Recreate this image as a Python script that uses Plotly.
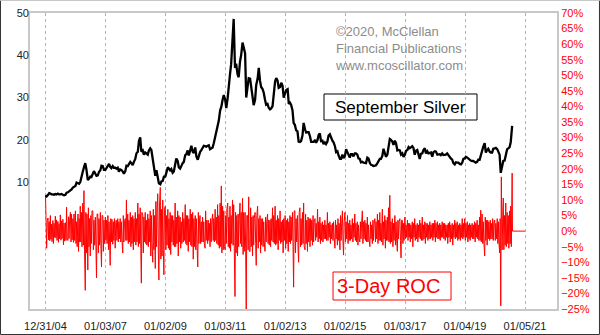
import pandas as pd
import plotly.graph_objects as go

# ---------------- data ----------------
# September silver, $/oz, twice a month (1st and 15th), Jan 2005 - Aug 2020
silver_2005 = [6.8, 6.6, 7.0, 7.4, 7.3, 7.1, 7.1, 7.0, 7.2, 7.1, 7.3, 7.1, 7.1, 7.2, 7.0, 6.9, 7.0, 7.5, 7.6, 7.8, 8.0, 8.3, 8.7, 8.9]
silver_2006 = [9.1, 9.9, 9.8, 9.6, 10.0, 11.5, 12.5, 13.5, 14.5, 13.0, 10.5, 10.8, 11.3, 11.2, 12.0, 12.6, 12.0, 11.5, 11.6, 12.4, 12.8, 13.9, 13.8, 12.9]
silver_2007 = [12.9, 13.4, 13.8, 14.3, 13.6, 13.3, 13.8, 13.4, 13.4, 13.2, 13.4, 12.5, 13.0, 12.9, 12.5, 12.0, 12.6, 13.9, 13.8, 14.4, 14.8, 14.5, 14.0, 14.8]
silver_2008 = [15.5, 16.8, 17.2, 19.8, 20.6, 17.2, 17.5, 16.5, 17.0, 16.8, 16.5, 17.5, 18.0, 17.6, 15.0, 13.6, 11.5, 12.8, 10.5, 9.7, 9.5, 10.2, 10.3, 11.3]
silver_2009 = [11.3, 12.5, 13.5, 13.2, 12.8, 13.1, 12.2, 12.5, 14.0, 15.6, 15.0, 13.5, 13.2, 13.9, 14.5, 14.8, 16.4, 16.6, 17.5, 16.3, 17.5, 18.6, 17.2, 16.9]
silver_2010 = [18.2, 16.1, 15.3, 16.3, 17.1, 17.5, 18.0, 18.6, 18.5, 18.4, 18.6, 18.7, 17.8, 17.9, 18.2, 19.2, 20.5, 21.8, 23.5, 24.5, 27.0, 27.8, 29.5, 30.6]
silver_2011 = [29.5, 27.5, 30.0, 33.5, 35.5, 37.9, 42.5, 48.6, 37.0, 38.0, 35.5, 34.8, 38.5, 40.0, 43.0, 41.5, 40.5, 30.0, 32.0, 34.6, 34.5, 32.6, 31.0, 28.2]
silver_2012 = [29.5, 33.0, 34.5, 37.0, 34.0, 32.5, 32.0, 31.2, 29.5, 28.3, 28.5, 27.6, 27.2, 27.4, 28.0, 31.0, 33.8, 34.6, 34.0, 32.3, 32.5, 33.5, 32.8, 30.0]
silver_2013 = [31.0, 31.8, 32.0, 28.5, 28.8, 28.3, 27.0, 24.0, 23.5, 22.3, 22.0, 19.6, 19.5, 19.7, 21.0, 24.0, 22.5, 21.7, 21.8, 21.8, 20.8, 19.5, 19.5, 19.5]
silver_2014 = [20.0, 19.3, 20.0, 21.2, 21.5, 19.7, 19.8, 19.0, 19.4, 19.0, 19.6, 21.0, 21.3, 20.4, 19.8, 19.4, 18.5, 17.1, 17.3, 16.3, 15.5, 15.5, 16.5, 15.7]
silver_2015 = [16.2, 17.8, 17.0, 16.6, 15.8, 16.6, 16.6, 16.1, 16.8, 16.8, 16.5, 15.6, 15.5, 14.7, 14.8, 14.6, 14.5, 14.5, 15.8, 15.6, 14.5, 14.1, 14.0, 13.8]
silver_2016 = [13.9, 14.0, 14.5, 15.0, 15.5, 15.5, 16.2, 17.9, 17.0, 16.0, 16.5, 18.6, 20.2, 20.0, 19.6, 18.8, 19.8, 19.2, 17.5, 17.6, 17.5, 16.5, 16.8, 16.0]
silver_2017 = [16.5, 17.4, 17.6, 18.3, 18.0, 18.2, 18.5, 18.1, 16.5, 17.4, 17.6, 16.6, 15.5, 16.7, 16.8, 17.6, 18.0, 16.8, 17.3, 16.8, 17.0, 17.0, 16.0, 17.1]
silver_2018 = [17.3, 17.2, 16.5, 16.5, 16.6, 16.4, 16.8, 16.4, 16.4, 16.5, 16.8, 16.3, 15.9, 15.6, 15.3, 14.5, 14.2, 14.7, 14.6, 14.6, 14.3, 14.2, 14.6, 15.5]
silver_2019 = [15.6, 16.0, 15.8, 15.6, 15.2, 15.1, 15.0, 15.0, 14.8, 14.6, 14.8, 15.3, 15.3, 16.4, 17.0, 18.4, 19.2, 17.0, 17.6, 17.9, 17.2, 17.0, 17.0, 17.9]
silver_2020 = [18.0, 18.1, 17.8, 16.9, 16.5, 12.2, 14.2, 15.0, 15.1, 16.5, 17.8, 18.0, 18.3, 19.5, 23.3]

# 3-day rate of change, %, four readings a month (days 1, 8, 15, 22), Jan 2005 - Aug 2020
roc_2005 = [11.6, -3.0, -5.5, 3.5, 4.2, -2.8, 3.0, -3.1, 5.0, -2.6, 2.2, -3.4, 3.4, -4.0, 2.5, -2.0, 4.8, -2.2, 3.6, -3.0, 3.1, -3.6, 2.4, -2.5, 5.2, -2.9, 3.3, -2.4, 3.8, -4.4, 2.6, -3.2, 2.7, -3.0, 7.7, -2.5, -3.0, 4.6, -2.4, 3.5, 6.0, -3.5, 5.4, -2.8, 4.0, -3.6, 5.5, -3.0]
roc_2006 = [6.5, -4.0, 3.0, -5.0, 5.5, -6.5, 4.0, -3.5, 8.0, -3.5, 6.0, -5.0, 9.0, -4.5, 13.0, -6.0, -19.0, 6.0, -7.0, 5.5, -12.5, 7.5, -5.0, 4.0, -8.0, 5.0, -4.0, 6.5, 6.5, -6.0, 3.5, -4.5, 4.5, -5.0, -15.0, 5.5, 5.5, -7.0, 4.0, -4.5, 6.0, -5.5, -11.5, 5.0, 5.0, -6.5, 3.5, -4.0]
roc_2007 = [4.5, -3.0, 3.5, -4.0, 5.0, -6.0, 3.0, -3.5, -11.0, 4.0, -3.5, 3.8, -4.2, 3.0, -3.0, 4.0, -5.5, 2.8, 3.5, -3.0, 4.0, -3.5, 3.0, -2.5, 4.0, -3.5, 3.0, -2.5, -7.0, 5.0, -3.5, 3.0, 4.0, -3.0, 10.0, -3.0, 5.5, -4.0, 3.5, -3.5, 6.0, -5.0, 4.5, -4.0, 5.0, -6.0, 4.0, -3.5]
roc_2008 = [6.0, -4.5, 4.0, -3.5, 9.0, -5.0, 5.5, -4.0, 7.5, -5.5, -16.7, 6.0, 5.0, -7.0, 4.5, -3.5, 6.0, -4.0, 3.5, -4.5, 5.5, -5.0, 4.0, -3.5, 6.5, -8.0, 5.0, -4.0, -10.0, 7.0, -6.0, 5.0, -12.0, 9.5, -5.0, 6.0, 12.0, -7.0, -15.7, 8.0, 14.0, -9.0, 7.0, -8.0, 10.0, -6.0, -14.0, 7.0]
roc_2009 = [8.0, -6.0, 5.0, -4.5, 7.0, -5.5, 4.0, -6.0, 6.0, -7.5, 5.0, -3.5, 5.0, -4.5, 3.5, -5.0, 9.0, -5.0, 4.5, -4.0, 6.5, -8.0, 5.0, -3.5, 4.5, -5.5, 3.0, -4.0, 6.0, -3.5, 4.0, -3.0, 8.5, -4.0, 5.0, -4.5, 5.0, -6.5, 4.0, -3.5, 7.0, -4.5, 5.5, -5.0, 6.0, -9.0, 4.0, -5.0]
roc_2010 = [5.0, -6.0, 4.0, -3.5, -11.5, 6.0, -4.0, 3.5, 5.0, -4.0, 3.0, -3.5, 4.5, -3.5, 3.0, -4.0, -5.5, 6.5, -3.0, 3.5, -4.0, 3.5, -3.0, 2.5, -5.0, 4.0, -3.5, 3.0, 5.5, -3.0, 4.0, -3.5, 7.0, -3.0, 4.5, -4.0, 8.5, -4.5, 5.0, -5.5, 9.0, -5.0, 14.5, -7.0, 8.0, -6.0, 6.5, -5.0]
roc_2011 = [-6.0, 5.0, -4.0, 7.0, 9.0, -5.0, 4.5, -5.5, 8.0, -6.5, 5.0, -4.0, 10.0, -4.5, 8.5, -5.0, -21.0, 6.0, -7.0, 5.0, -8.0, 5.5, -5.0, 4.0, 9.0, -4.0, 6.0, -5.0, 10.5, -7.5, 6.0, -6.5, 6.0, -5.5, -25.0, 5.0, 5.0, -6.0, 11.0, -6.5, -6.5, 7.5, -5.0, 4.5, -8.0, 5.0, -4.5, 4.0]
roc_2012 = [6.0, -4.0, -11.0, 5.0, 8.0, -5.5, 4.0, -3.5, 5.0, -7.0, 4.0, -4.5, 4.0, -5.0, 3.0, -3.5, -6.5, 4.5, -3.5, 3.0, 5.5, -4.0, 3.5, -4.5, 3.5, -5.0, 4.0, -3.0, 7.5, -3.5, 5.0, -4.0, 8.0, -4.5, 3.5, -4.0, 5.0, -6.0, 4.0, -3.0, 6.5, -4.0, 3.0, -3.5, 3.5, -7.0, 4.0, -3.0]
roc_2013 = [5.0, -5.5, 3.5, -4.0, 4.0, -6.5, 3.0, -3.5, 5.0, -4.0, 4.5, -3.0, 6.0, -5.0, -18.0, 6.5, 6.5, -7.0, 4.0, -3.5, 5.0, -5.5, -10.0, 6.0, 7.5, -5.0, 4.0, -4.5, 6.0, -4.0, 9.0, -5.0, -6.0, 5.5, -4.0, 3.5, -6.5, 4.5, -3.5, 4.0, -5.0, 4.0, -3.0, 3.5, -4.5, 5.0, -3.5, 3.0]
roc_2014 = [4.0, -3.0, 2.5, -2.0, 7.0, -3.5, 3.0, -2.5, 4.5, -4.0, 2.5, -3.0, 3.0, -3.5, 2.0, -2.5, 3.5, -2.5, 2.0, -3.0, 6.0, -3.0, 2.5, -2.0, 3.0, -4.0, 2.0, -2.5, 2.5, -3.0, 3.0, -2.0, -5.5, 3.5, -2.5, 2.0, -4.5, 4.0, -3.0, 2.5, -6.0, 5.0, -3.0, 2.5, 6.5, -3.5, -7.7, 3.0]
roc_2015 = [6.0, -3.5, 3.0, -2.5, 5.0, -4.0, 2.5, -3.0, 3.5, -3.0, 2.0, -2.5, 4.0, -3.5, 2.5, -2.0, 5.5, -3.0, 2.5, -3.5, 3.0, -4.5, 2.0, -2.5, -3.5, 3.0, -2.5, 2.0, 6.5, -4.0, 3.0, -2.5, 3.5, -3.0, 2.5, -3.5, 4.5, -3.5, 2.0, -2.5, -5.0, 3.0, -2.5, 2.0, -4.0, 3.5, -3.0, 2.5]
roc_2016 = [4.0, -3.5, 3.0, -2.5, 5.5, -4.0, 3.5, -3.0, 6.0, -3.0, 2.5, -3.5, 7.0, -4.5, 3.0, -2.5, 5.0, -5.5, 3.5, -3.0, 4.5, -3.0, 7.5, -3.5, 11.5, -4.0, 3.0, -3.5, 4.0, -5.0, 2.5, -3.0, 5.0, -4.5, 3.0, -2.5, -6.5, 3.5, -2.5, 3.0, 4.0, -3.0, -8.6, 3.5, 3.5, -4.0, 2.5, -3.0]
roc_2017 = [4.5, -2.5, 2.0, -2.0, 3.5, -3.0, 2.5, -2.0, 2.5, -3.5, 2.0, -2.5, 3.0, -5.0, 2.5, -2.0, 4.0, -3.0, 2.0, -2.5, 2.5, -3.5, 2.0, -2.0, 3.5, -2.5, 2.5, -3.0, 4.5, -3.0, 2.0, -2.5, 3.0, -4.0, 2.5, -2.0, 2.5, -3.0, 2.0, -2.5, 3.0, -2.5, 2.0, -2.0, 2.5, -3.0, 2.5, -2.0]
roc_2018 = [3.5, -3.5, 2.5, -2.0, 3.0, -2.5, 2.0, -2.5, 2.5, -3.0, 2.0, -2.0, 3.0, -2.0, 2.5, -2.5, 2.5, -3.0, 2.0, -2.0, 2.0, -4.0, 2.5, -2.0, 3.0, -3.5, 2.0, -2.5, 2.5, -4.5, 2.0, -2.0, 3.5, -2.5, 2.5, -2.0, 3.0, -3.0, 2.0, -2.5, 2.5, -3.0, 2.0, -2.0, 4.0, -2.5, 2.5, -2.0]
roc_2019 = [4.0, -3.0, 2.5, -2.0, 3.0, -3.5, 2.0, -2.5, 2.5, -3.0, 2.0, -2.0, 2.5, -2.5, 2.0, -2.5, 3.0, -3.5, 2.5, -2.0, 3.5, -2.5, 2.0, -3.0, 4.5, -3.0, 6.7, -3.5, 5.5, -4.0, 3.0, -3.5, -8.0, 4.5, -3.0, 3.5, -4.5, 3.5, -2.5, 3.0, -3.0, 3.5, -2.5, 2.5, -2.5, 4.0, -3.0, 2.5]
roc_2020 = [3.5, -3.0, 2.5, -2.5, 4.0, -4.0, 3.0, -3.5, -7.0, 4.0, -24.0, 17.4, -6.0, 5.0, 10.6, -6.0, 5.0, -4.5, 9.0, -5.0, 6.0, -4.0, 5.0, -5.5, 6.5, -4.0, 8.0, -5.0, 18.6]
roc_tail_dates = ["2020-08-05", "2021-01-05"]
roc_tail = [0.0, 0.0]

tick_dates = ["2004-12-31", "2007-01-03", "2009-01-02", "2011-01-03", "2013-01-02",
              "2015-01-02", "2017-01-03", "2019-01-04", "2021-01-05"]
tick_labels = ["12/31/04", "01/03/07", "01/02/09", "01/03/11", "01/02/13",
               "01/02/15", "01/03/17", "01/04/19", "01/05/21"]
left_ticks = [10, 20, 30, 40, 50]

silver = (silver_2005 + silver_2006 + silver_2007 + silver_2008 + silver_2009 + silver_2010 +
          silver_2011 + silver_2012 + silver_2013 + silver_2014 + silver_2015 + silver_2016 +
          silver_2017 + silver_2018 + silver_2019 + silver_2020)
roc = (roc_2005 + roc_2006 + roc_2007 + roc_2008 + roc_2009 + roc_2010 + roc_2011 + roc_2012 +
       roc_2013 + roc_2014 + roc_2015 + roc_2016 + roc_2017 + roc_2018 + roc_2019 + roc_2020)

silver_dates = pd.date_range("2005-01-01", periods=len(silver), freq="SMS")
roc_dates = [m + pd.Timedelta(days=d) for m in pd.date_range("2005-01-01", "2020-07-01", freq="MS")
             for d in (0, 7, 14, 21)] + [pd.Timestamp("2020-08-01")]
roc_x = roc_dates + [pd.Timestamp(d) for d in roc_tail_dates]
roc_y = roc + roc_tail

FONT = "Arial, Liberation Sans, sans-serif"

fig = go.Figure()
fig.add_trace(go.Scatter(x=roc_x, y=roc_y, mode="lines", yaxis="y",
                         line=dict(color="#ff0000", width=1), showlegend=False))
fig.add_trace(go.Scatter(x=silver_dates, y=silver, mode="lines", yaxis="y2",
                         line=dict(color="#000000", width=2.3), showlegend=False))

fig.update_layout(
    template="none",
    width=600, height=335,
    margin=dict(l=30, r=43, t=13, b=26, autoexpand=False),
    paper_bgcolor="white", plot_bgcolor="white",
    font=dict(family=FONT, size=11, color="#222"),
    xaxis=dict(range=["2004-06-26", "2022-01-30"], tickvals=tick_dates, ticktext=tick_labels,
               showgrid=True, gridcolor="#b4b4b4", griddash="dot", gridwidth=1,
               showline=True, linecolor="#c8c8c8", linewidth=2, mirror=True,
               ticks="", zeroline=False, ticklabelstandoff=6, automargin=False,
               tickfont=dict(size=11, color="#222")),
    yaxis=dict(range=[-25, 70], dtick=5, ticksuffix="%", side="right",
               showgrid=False, zeroline=False, ticks="", automargin=False,
               showline=True, linecolor="#c8c8c8", linewidth=2, mirror=True,
               tickfont=dict(size=11, color="#ff0000")),
    yaxis2=dict(range=[-20, 50], tickvals=left_ticks, side="left", overlaying="y",
                showgrid=False, zeroline=False, ticks="", automargin=False,
                tickfont=dict(size=11, color="#222")),
)

# label boxes
fig.add_shape(type="rect", xref="paper", yref="paper", x0=0.5579, x1=0.8482, y0=0.6385, y1=0.7264,
              line=dict(color="#000000", width=1), fillcolor="white", layer="between")
fig.add_shape(type="rect", xref="paper", yref="paper", x0=0.5750, x1=0.7989, y0=0.0304, y1=0.125,
              line=dict(color="#ff0000", width=1), fillcolor="white", layer="between")

fig.add_annotation(xref="paper", yref="paper", x=0.703, y=0.6824, showarrow=False,
                   xanchor="center", yanchor="middle",
                   text="September Silver", font=dict(family=FONT, size=17, color="#000"))
fig.add_annotation(xref="paper", yref="paper", x=0.6812, y=0.0777, showarrow=False,
                   xanchor="center", yanchor="middle",
                   text="3-Day ROC", font=dict(family=FONT, size=20, color="#ff0000"))
fig.add_annotation(xref="paper", yref="paper", x=0.575, y=0.97, xanchor="left", yanchor="top",
                   align="left", showarrow=False,
                   text="©2020, McClellan<br>Financial Publications<br>www.mcoscillator.com",
                   font=dict(family=FONT, size=13, color="#8c8c8c"))

# outer frame of the picture
fig.add_shape(type="line", xref="paper", yref="paper", x0=-0.056, x1=-0.056, y0=-0.0862, y1=1.0422,
              line=dict(color="#333", width=1))
fig.add_shape(type="line", xref="paper", yref="paper", x0=-0.056, x1=1.0806, y0=-0.0862, y1=-0.0862,
              line=dict(color="#333", width=1))
fig.add_shape(type="line", xref="paper", yref="paper", x0=1.0806, x1=1.0806, y0=-0.0862, y1=1.0422,
              line=dict(color="#333", width=1))
fig.add_shape(type="line", xref="paper", yref="paper", x0=-0.056, x1=1.0806, y0=1.0422, y1=1.0422,
              line=dict(color="#c8c8c8", width=1))

fig.write_html("out.html")
